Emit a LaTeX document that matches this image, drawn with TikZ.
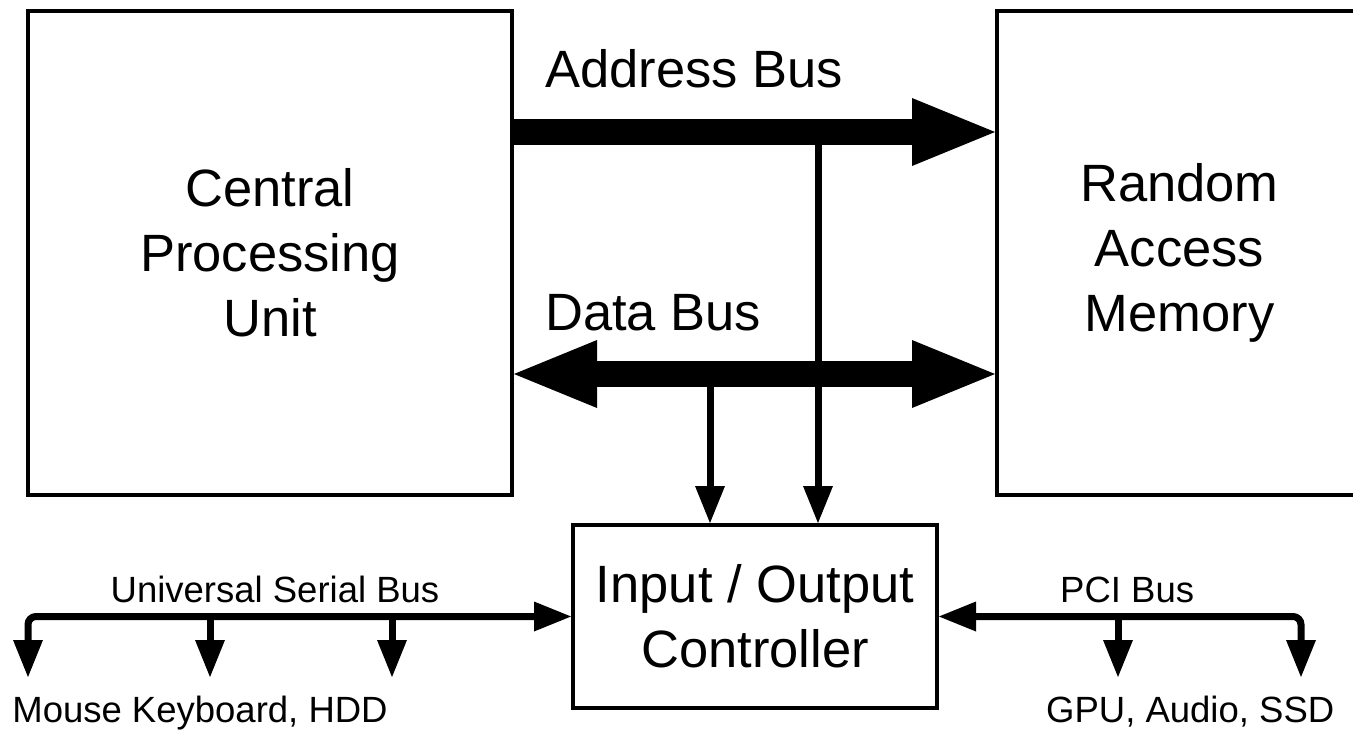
\documentclass[tikz,border=0pt]{standalone}
\usepackage{fontspec}
\setmainfont{Liberation Sans}
\usetikzlibrary{arrows.meta}
\begin{document}
\begin{tikzpicture}[x=1pt,y=-1pt,
  bigfont/.style={font=\fontsize{52.5}{65}\selectfont},
  smallfont/.style={font=\fontsize{36.5}{44}\selectfont},
  blockbox/.style={draw, line width=4pt, inner sep=0pt, align=center, bigfont},
  bigbus/.style={line width=26pt},
  thinbus/.style={line width=7pt, rounded corners=8pt},
  BigTip/.tip={Triangle[length=83pt,width=68pt,line width=0pt]},
  SmallTip/.tip={Triangle[length=37pt,width=30pt,line width=0pt]}]
\fill[white] (0,0) rectangle (1353,731);
\useasboundingbox (0,0) rectangle (1353,731);

% blocks
\node[blockbox, minimum width=484pt, minimum height=484pt] (cpu) at (270,253)
  {Central\\Processing\\Unit};
\node[blockbox, minimum width=365pt, minimum height=484pt] (ram) at (1179.5,253)
  {Random\\Access\\Memory};
\node[blockbox, minimum width=364pt, minimum height=183pt] (io) at (755,616.5)
  {Input / Output\\Controller};

% bus levels
\coordinate (addrY) at (0,132);
\coordinate (dataY) at (0,374);
\coordinate (ad) at (818,132);
\coordinate (dd) at (710,374);

% address and data buses
\draw[bigbus, -{BigTip}] (cpu.east |- addrY) -- (ram.west |- addrY);
\draw[bigbus, {BigTip}-{BigTip}] (cpu.east |- dataY) -- (ram.west |- dataY);
\draw[line width=7pt, -{SmallTip}] (ad) -- (ad |- io.north);
\draw[line width=7pt, -{SmallTip}] (dd) -- (dd |- io.north);

% USB
\coordinate (usb1) at (28,677);
\coordinate (usb2) at (210,617);
\coordinate (usb3) at (392,617);
\draw[thinbus, {SmallTip}-{SmallTip}] (usb1) |- (io.west);
\draw[line width=7pt, -{SmallTip}] (usb2) -- ++(0,60);
\draw[line width=7pt, -{SmallTip}] (usb3) -- ++(0,60);

% PCI
\coordinate (pci2) at (1301,677);
\coordinate (pci1) at (1118,617);
\draw[thinbus, {SmallTip}-{SmallTip}] (pci2) |- (io.east);
\draw[line width=7pt, -{SmallTip}] (pci1) -- ++(0,60);

% labels
\node[bigfont, anchor=base west, inner sep=0pt] (lab) at (545,87) {Address Bus};
\node[bigfont, anchor=base west, inner sep=0pt] (ldb) at (545,330) {Data Bus};
\node[smallfont, anchor=base, inner sep=0pt] (lusb) at (275,602) {Universal Serial Bus};
\node[smallfont, anchor=base west, inner sep=0pt] (lpci) at (1060,602) {PCI Bus};
\node[smallfont, anchor=base, inner sep=0pt] (ldev) at (200,722) {Mouse Keyboard, HDD};
\node[smallfont, anchor=base west, inner sep=0pt] (lpdev) at (1046,722) {GPU, Audio, SSD};
\end{tikzpicture}
\end{document}
